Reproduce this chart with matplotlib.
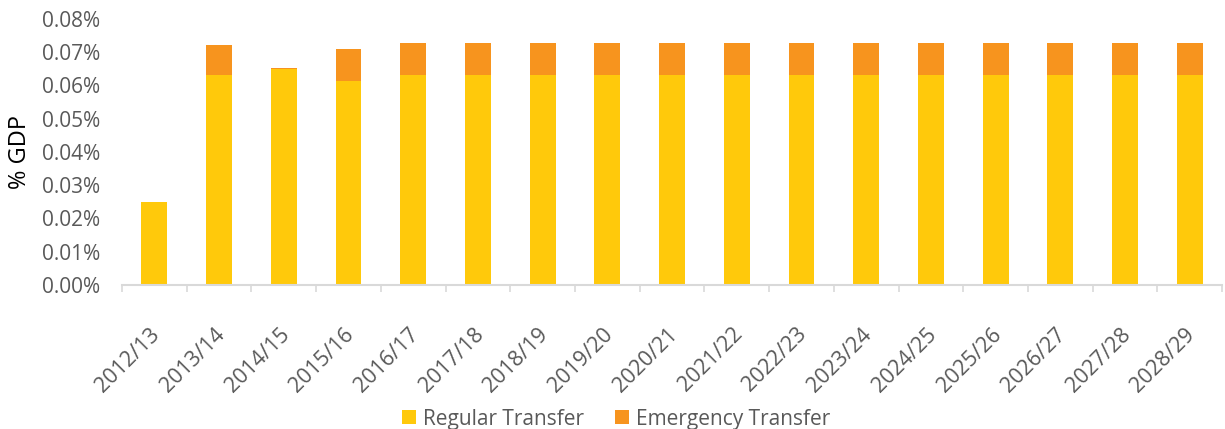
import numpy as np
import matplotlib
matplotlib.use("Agg")
import matplotlib.pyplot as plt
import matplotlib.transforms as mtransforms
from matplotlib.ticker import FuncFormatter, FixedLocator

plt.rcParams['font.family'] = ['Open Sans', 'DejaVu Sans']

#--------data (values in % of GDP)
years = ['2012/13', '2013/14', '2014/15', '2015/16', '2016/17', '2017/18',
         '2018/19', '2019/20', '2020/21', '2021/22', '2022/23', '2023/24',
         '2024/25', '2025/26', '2026/27', '2027/28', '2028/29']
regular = [0.0251, 0.0632, 0.0649, 0.0614, 0.0632, 0.0632, 0.0632, 0.0632, 0.0632,
           0.0632, 0.0632, 0.0632, 0.0632, 0.0632, 0.0632, 0.0632, 0.0632]
emergency = [0.0, 0.0089, 0.0005, 0.0095, 0.0095, 0.0095, 0.0095, 0.0095, 0.0095,
             0.0095, 0.0095, 0.0095, 0.0095, 0.0095, 0.0095, 0.0095, 0.0095]

c_reg = '#FFC90B'
c_emg = '#F7941E'
grey = '#595959'

fig = plt.figure(figsize=(12.25, 4.29), dpi=100)
ax = fig.add_axes([0.0996, 0.3357, 0.8980, 0.6200])

x = np.arange(len(years))
ax.bar(x, regular, width=0.4, color=c_reg, label='Regular Transfer')
ax.bar(x, emergency, width=0.4, bottom=regular, color=c_emg, label='Emergency Transfer')

ax.set_xlim(-0.5, len(years) - 0.5)
ax.set_ylim(0, 0.08)
ax.set_yticks(np.arange(0, 0.081, 0.01))
ax.yaxis.set_major_formatter(FuncFormatter(lambda v, p: '%.2f%%' % v))
ax.tick_params(axis='y', length=0, labelsize=15, labelcolor=grey, pad=16)

ax.set_xticks(x)
ax.set_xticklabels(years, rotation=45, ha='right', rotation_mode='anchor')
ax.tick_params(axis='x', which='major', length=0, labelsize=15.5, labelcolor=grey, pad=28)
# nudge rotated labels a little to the left
shift = mtransforms.ScaledTranslation(-5/100, 0, fig.dpi_scale_trans)
for lbl in ax.get_xticklabels():
    lbl.set_transform(lbl.get_transform() + shift)
ax.xaxis.set_minor_locator(FixedLocator(np.arange(-0.5, len(years), 1)))
ax.tick_params(axis='x', which='minor', length=5, width=1.2, color='#D9D9D9')

for s in ['top', 'right', 'left']:
    ax.spines[s].set_visible(False)
ax.spines['bottom'].set_color('#D9D9D9')
ax.spines['bottom'].set_linewidth(1.5)

ax.set_ylabel('% GDP', fontsize=17, color='black')
ax.yaxis.set_label_coords(-0.082, 0.5)

fig.legend(loc='lower center', bbox_to_anchor=(0.503, -0.045), ncol=2, frameon=False,
           fontsize=15, labelcolor=grey, handlelength=0.65, handleheight=0.65,
           columnspacing=1.5, handletextpad=0.35)

plt.savefig('out.png', dpi=100)
